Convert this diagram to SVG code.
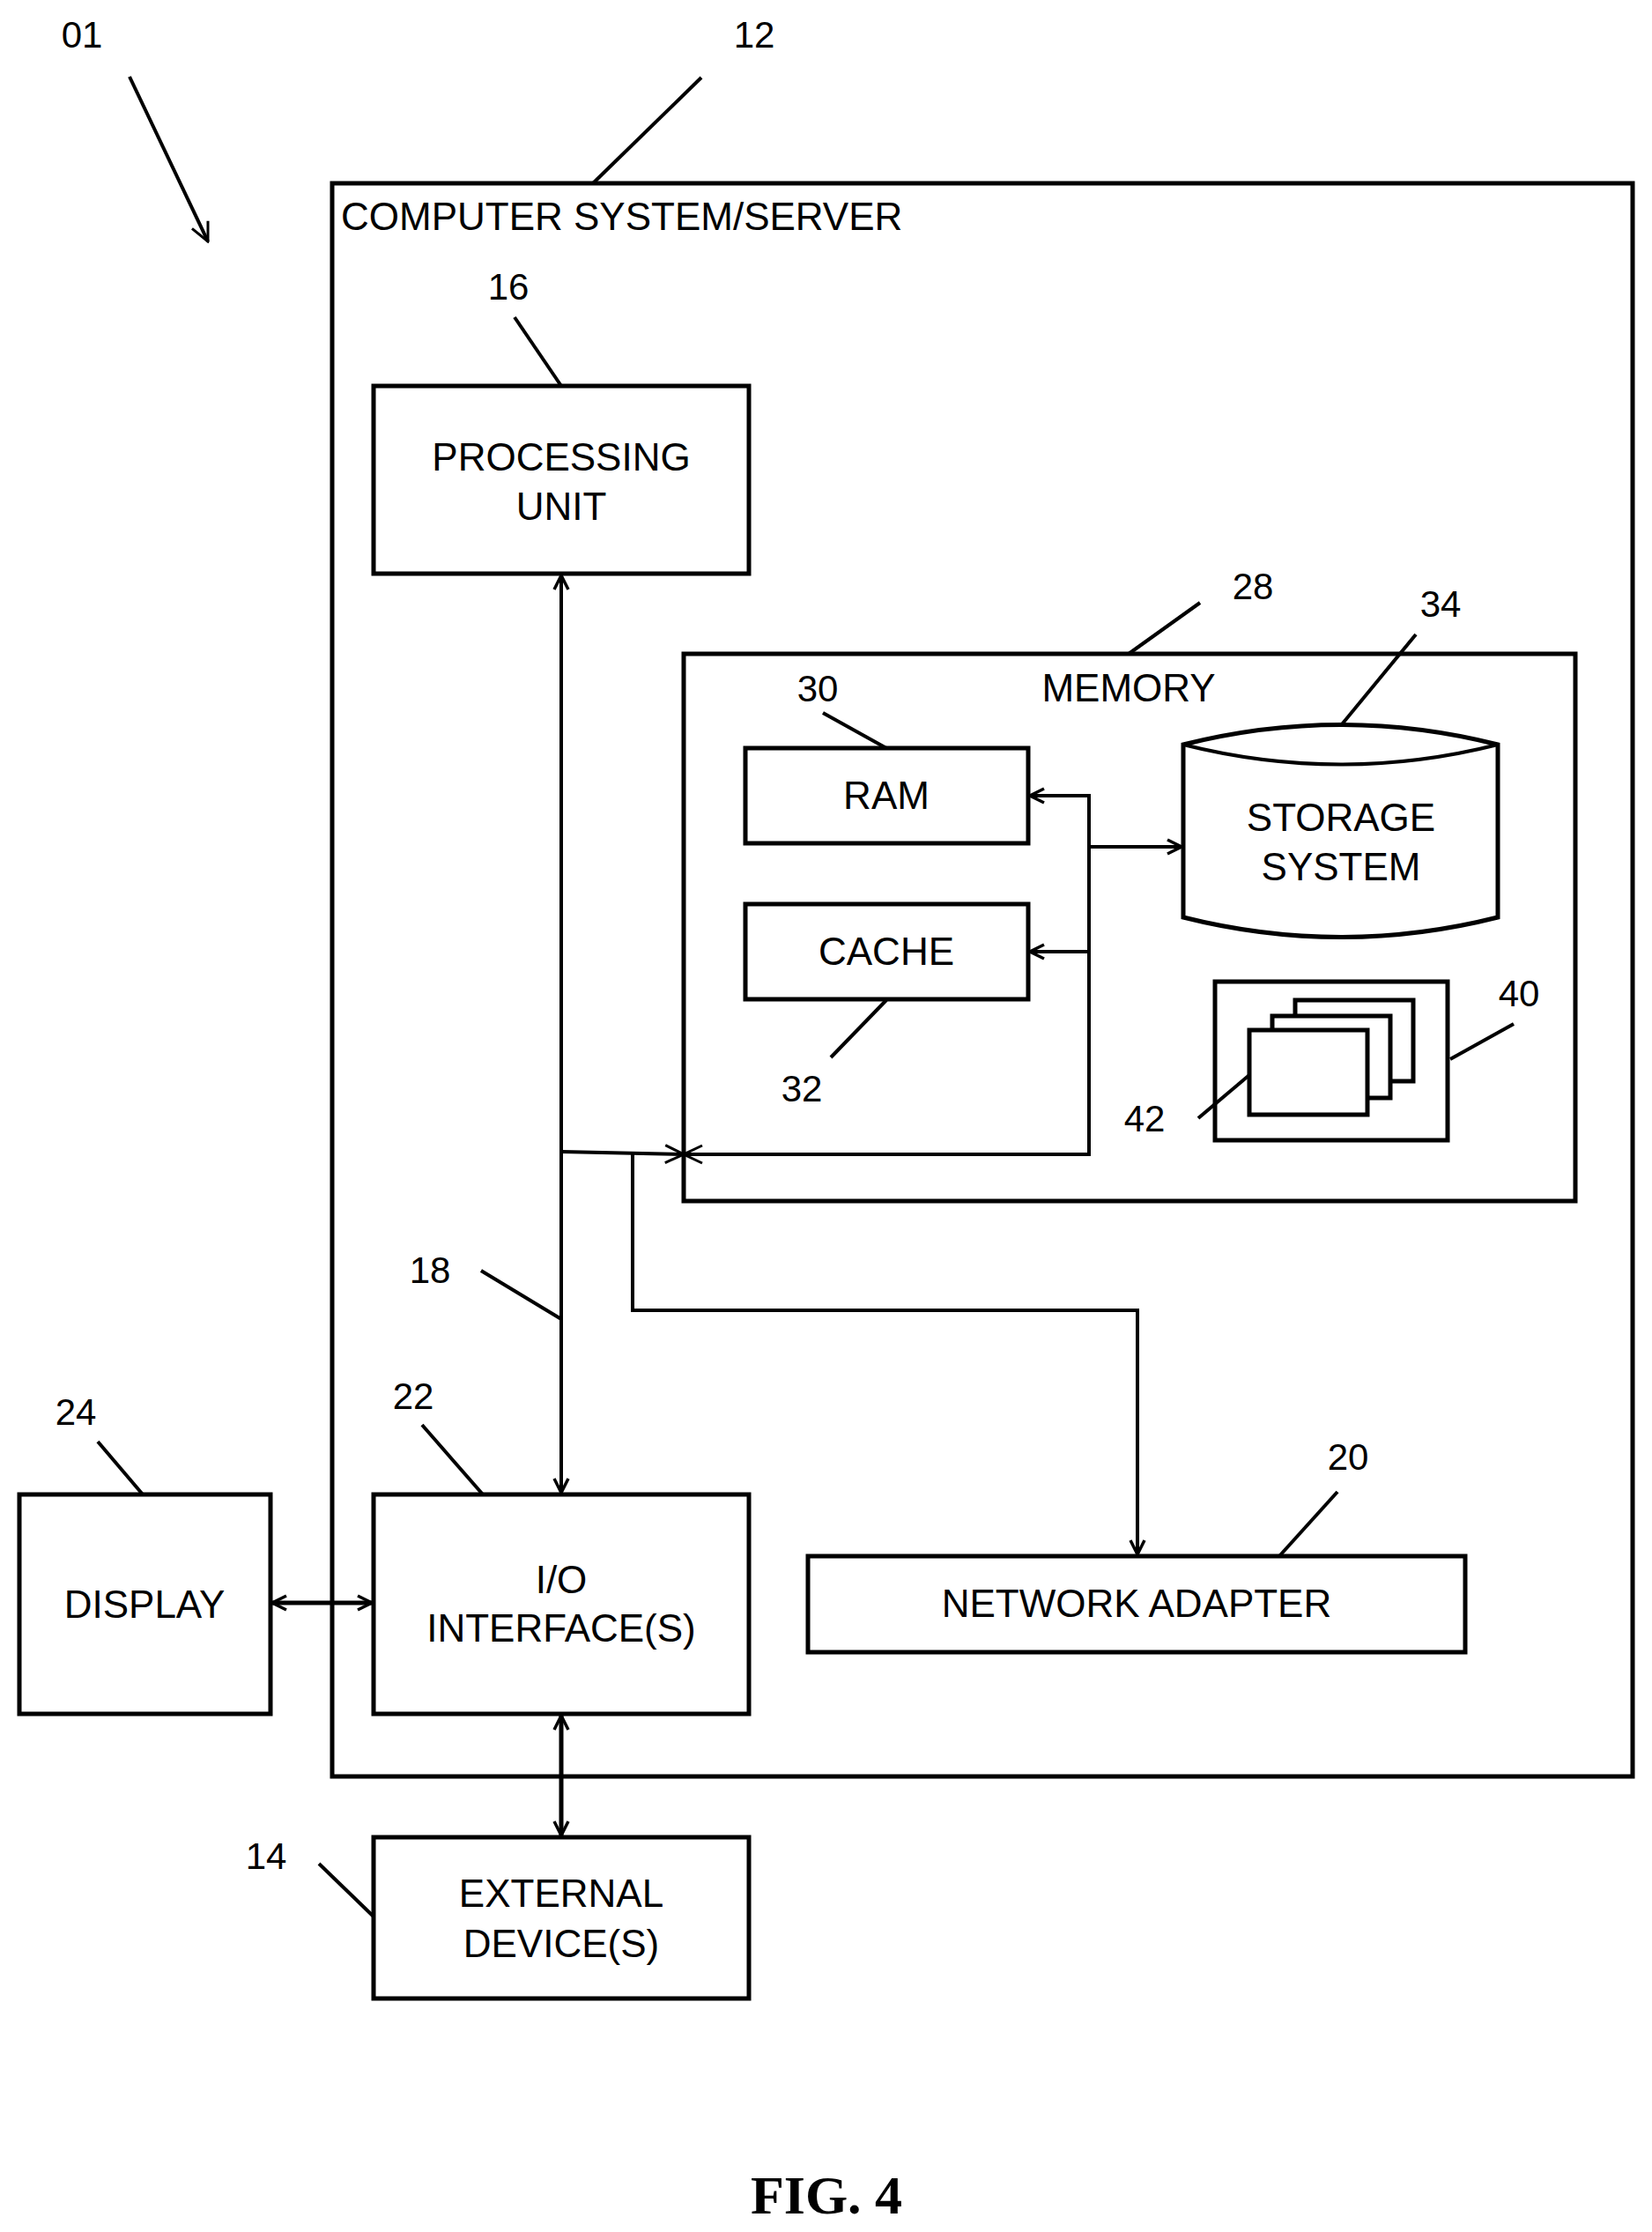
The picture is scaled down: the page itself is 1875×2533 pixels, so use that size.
<svg xmlns="http://www.w3.org/2000/svg" width="1875" height="2533" viewBox="0 0 1875 2533">
<style>
.b{fill:#fff;stroke:#000;stroke-width:5}
.l{fill:none;stroke:#000;stroke-width:4}
.t{font-family:"Liberation Sans",Arial,sans-serif;font-size:44px;text-anchor:middle;fill:#000}
.n{font-family:"Liberation Sans",Arial,sans-serif;font-size:42px;text-anchor:middle;fill:#000}
</style>
<defs>
<marker id="a" viewBox="0 0 20 20" refX="18" refY="10" markerWidth="20" markerHeight="20" markerUnits="userSpaceOnUse" orient="auto-start-reverse">
<path d="M2,2 L18,10 L2,18" fill="none" stroke="#000" stroke-width="3.5"/>
</marker>
<marker id="a2" viewBox="0 0 26 26" refX="24" refY="13" markerWidth="26" markerHeight="26" markerUnits="userSpaceOnUse" orient="auto-start-reverse">
<path d="M3,3 L24,13 L3,23" fill="none" stroke="#000" stroke-width="3"/>
</marker>
</defs>
<rect width="1875" height="2533" fill="#fff"/>
<g id="server"><rect class="b" x="377" y="208" width="1476" height="1808"/>
<text class="t" x="387" y="261" style="text-anchor:start">COMPUTER SYSTEM/SERVER</text></g>
<g id="pu"><rect class="b" x="424" y="438" width="426" height="213"/>
<text class="t" x="637" y="534">PROCESSING</text><text class="t" x="637" y="590">UNIT</text></g>
<g id="memory"><rect class="b" x="776" y="742" width="1012" height="621"/>
<text class="t" x="1281" y="796">MEMORY</text></g>
<g id="ram"><rect class="b" x="846" y="849" width="321" height="108"/><text class="t" x="1006" y="918">RAM</text></g>
<g id="cache"><rect class="b" x="846" y="1026" width="321" height="108"/><text class="t" x="1006" y="1095">CACHE</text></g>
<g id="storage"><path class="b" d="M1343,845 Q1522,800 1700,845 L1700,1041 Q1522,1086 1343,1041 Z"/>
<path class="l" d="M1343,845 Q1522,890 1700,845"/>
<text class="t" x="1522" y="943">STORAGE</text><text class="t" x="1522" y="999">SYSTEM</text></g>
<g id="programs"><rect class="b" x="1379" y="1114" width="264" height="180"/>
<rect class="b" x="1470" y="1135" width="134" height="92"/>
<rect class="b" x="1444" y="1153" width="134" height="93"/>
<rect class="b" x="1418" y="1169" width="134" height="96"/></g>
<g id="io"><rect class="b" x="424" y="1696" width="426" height="249"/>
<text class="t" x="637" y="1808">I/O</text><text class="t" x="637" y="1863">INTERFACE(S)</text></g>
<g id="display"><rect class="b" x="22" y="1696" width="285" height="249"/><text class="t" x="164" y="1836">DISPLAY</text></g>
<g id="na"><rect class="b" x="917" y="1766" width="746" height="109"/><text class="t" x="1290" y="1835">NETWORK ADAPTER</text></g>
<g id="ext"><rect class="b" x="424" y="2085" width="426" height="183"/>
<text class="t" x="637" y="2164">EXTERNAL</text><text class="t" x="637" y="2221">DEVICE(S)</text></g>
<g id="connectors">
<path class="l" d="M637,653 L637,1694" marker-start="url(#a)" marker-end="url(#a)"/>
<path class="l" d="M637,1307 L776,1310" marker-end="url(#a2)"/>
<path class="l" d="M776,1310 L1236,1310 L1236,903 L1169,903" marker-start="url(#a2)" marker-end="url(#a)"/>
<path class="l" d="M1236,1080 L1169,1080" marker-end="url(#a)"/>
<path class="l" d="M1236,961 L1341,961" marker-end="url(#a)"/>
<path class="l" d="M718,1309 L718,1487 L1291,1487 L1291,1764" marker-end="url(#a)"/>
<path class="l" style="stroke-width:5" d="M309,1819 L422,1819" marker-start="url(#a)" marker-end="url(#a)"/>
<path class="l" style="stroke-width:5" d="M637,1947 L637,2083" marker-start="url(#a)" marker-end="url(#a)"/>
<path class="l" d="M147,87 L236,274" marker-end="url(#a2)"/>
<path class="l" d="M796,88 L673,208"/>
<path class="l" d="M584,360 L637,438"/>
<path class="l" d="M1362,684 L1281,742"/>
<path class="l" d="M1607,720 L1523,822"/>
<path class="l" d="M934,809 L1006,849"/>
<path class="l" d="M1006,1135 L943,1200"/>
<path class="l" d="M1718,1162 L1646,1202"/>
<path class="l" d="M1360,1269 L1418,1220"/>
<path class="l" d="M546,1442 L637,1497"/>
<path class="l" d="M479,1617 L548,1696"/>
<path class="l" d="M111,1636 L162,1696"/>
<path class="l" d="M1518,1693 L1452,1766"/>
<path class="l" d="M362,2115 L424,2175"/>
</g>
<g id="labels">
<text class="n" x="93" y="54">01</text>
<text class="n" x="856" y="54">12</text>
<text class="n" x="577" y="340">16</text>
<text class="n" x="1422" y="680">28</text>
<text class="n" x="1635" y="700">34</text>
<text class="n" x="928" y="796">30</text>
<text class="n" x="910" y="1250">32</text>
<text class="n" x="1724" y="1142">40</text>
<text class="n" x="1299" y="1284">42</text>
<text class="n" x="488" y="1456">18</text>
<text class="n" x="469" y="1599">22</text>
<text class="n" x="86" y="1617">24</text>
<text class="n" x="1530" y="1668">20</text>
<text class="n" x="302" y="2121">14</text>
<text x="938" y="2512" style="font-family:'Liberation Serif','Times New Roman',serif;font-size:62px;font-weight:bold;text-anchor:middle">FIG. 4</text>
</g>
</svg>
